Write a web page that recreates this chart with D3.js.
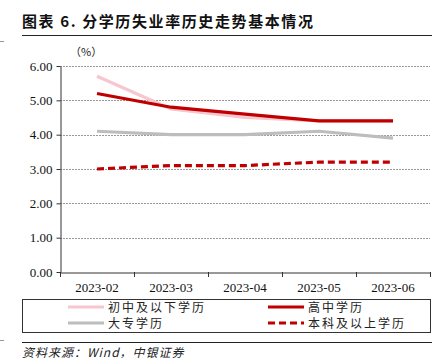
<!DOCTYPE html>
<html><head><meta charset="utf-8">
<script src="https://cdn.jsdelivr.net/npm/d3@7"></script>
<style>body{margin:0;background:#fff}svg{display:block}</style>
</head><body>
<script>
const categories = ["2023-02","2023-03","2023-04","2023-05","2023-06"];
const seriesNames = ["初中及以下学历","高中学历","大专学历","本科及以上学历"];
const juniorHigh = [5.7,4.75,4.5,4.4,4.4];
const seniorHigh = [5.2,4.8,4.6,4.4,4.4];
const college = [4.1,4.0,4.0,4.1,3.9];
const bachelor = [3.0,3.1,3.1,3.2,3.2];
const yTicks = [0,1,2,3,4,5,6];

const W=445,H=364;
const svg=d3.select("body").append("svg").attr("width",W).attr("height",H);
const serif="'Liberation Serif','Times New Roman',serif";
const cjk="'Noto Sans CJK SC',sans-serif";

// title
svg.append("text").attr("x",22).attr("y",27).attr("font-family",cjk).attr("font-weight","bold")
  .attr("font-size",15).attr("letter-spacing",1.6).attr("fill","#111").text("图表 6. 分学历失业率历史走势基本情况");
svg.append("line").attr("x1",22).attr("x2",432).attr("y1",35.5).attr("y2",35.5).attr("stroke","#222").attr("stroke-width",1);
svg.append("text").attr("x",70).attr("y",56).attr("font-family",cjk).attr("font-size",11).attr("fill","#222").text("（%）");

// page edge marks
svg.append("line").attr("x1",0).attr("x2",4).attr("y1",41.5).attr("y2",41.5).attr("stroke","#999");
svg.append("line").attr("x1",0).attr("x2",4).attr("y1",340.5).attr("y2",340.5).attr("stroke","#999");

const x=d3.scaleBand().domain(categories).range([60,430]);
const y=d3.scaleLinear().domain([0,6]).range([272,66]);

// grid
svg.append("g").selectAll("line").data(yTicks.filter(d=>d>0)).join("line")
  .attr("x1",60).attr("x2",430).attr("y1",d=>Math.round(y(d))+0.5).attr("y2",d=>Math.round(y(d))+0.5)
  .attr("stroke","#999").attr("stroke-width",1).attr("stroke-dasharray","2,1");

// y axis
const ya=svg.append("g").attr("transform","translate(60.5,0)")
  .call(d3.axisLeft(y).tickValues(yTicks).tickFormat(d3.format(".2f")).tickSize(4).tickSizeOuter(0));
ya.attr("font-family",serif);
ya.select(".domain").attr("stroke","#333");
ya.selectAll(".tick line").attr("stroke","#333");
ya.selectAll("text").attr("font-family",serif).attr("font-size",13).attr("fill","#111").attr("x",-8);

// x axis
const xa=svg.append("g").attr("transform","translate(0,272.5)")
  .call(d3.axisBottom(x).tickSize(0).tickSizeOuter(0));
xa.attr("font-family",serif);
xa.select(".domain").attr("stroke","#333");
xa.selectAll("text").attr("font-family",serif).attr("font-size",13).attr("fill","#111").attr("dy","1.3em");
const bounds=categories.map(c=>x(c)).concat([x.range()[1]]);
svg.append("g").selectAll("line").data(bounds).join("line")
  .attr("x1",d=>Math.round(d)+0.5).attr("x2",d=>Math.round(d)+0.5).attr("y1",272).attr("y2",277)
  .attr("stroke","#333");

const series=[
  {name:seriesNames[0],vals:juniorHigh,color:"#F7C6CE",dash:null},
  {name:seriesNames[1],vals:seniorHigh,color:"#C00000",dash:null},
  {name:seriesNames[2],vals:college,color:"#BDBDBD",dash:null},
  {name:seriesNames[3],vals:bachelor,color:"#C00000",dash:"7,4"}
];
const line=d3.line().x((d,i)=>x(categories[i])+x.bandwidth()/2).y(d=>y(d));
const order=[2,0,3,1];
order.forEach(k=>{
  const s=series[k];
  svg.append("path").attr("d",line(s.vals)).attr("fill","none").attr("stroke",s.color)
    .attr("stroke-width",3.2).attr("stroke-dasharray",s.dash);
});

// legend
svg.append("rect").attr("x",22.5).attr("y",299.5).attr("width",408).attr("height",33)
  .attr("fill","none").attr("stroke","#333").attr("stroke-width",1);
const lpos=[[68,307],[268,307],[68,323],[268,323]];
[0,1,2,3].forEach((k,i)=>{
  const s=series[k],[lx,ly]=lpos[i];
  svg.append("line").attr("x1",lx).attr("x2",lx+36).attr("y1",ly).attr("y2",ly)
    .attr("stroke",s.color).attr("stroke-width",3.2).attr("stroke-dasharray",s.dash?"7,4":null);
  svg.append("text").attr("x",lx+40).attr("y",ly+4.5).attr("font-family",cjk).attr("font-size",12)
    .attr("letter-spacing",2).attr("fill","#222").text(s.name);
});

// source
svg.append("line").attr("x1",22).attr("x2",432).attr("y1",342.5).attr("y2",342.5).attr("stroke","#222");
svg.append("text").attr("x",22).attr("y",357).attr("font-family",cjk).attr("font-size",12)
  .attr("font-style","italic").attr("letter-spacing",1).attr("fill","#222").text("资料来源：Wind，中银证券");
</script>
</body></html>
